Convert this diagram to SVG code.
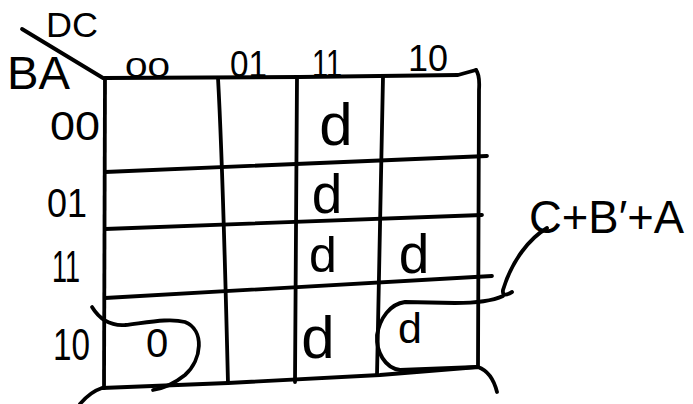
<svg xmlns="http://www.w3.org/2000/svg" width="693" height="404" viewBox="0 0 693 404">
<style>
.ln{fill:none;stroke:#000;stroke-width:3.8;stroke-linecap:round;stroke-linejoin:round}
.t{font-family:"Liberation Sans","DejaVu Sans",sans-serif;fill:#000}
.m{text-anchor:middle}
</style>
<rect width="693" height="404" fill="#fff"/>
<g id="grid">
<path class="ln" d="M105,78 L300,77 L458,75 L476,70"/>
<path class="ln" d="M105,78 L104,388"/>
<path class="ln" d="M218,78 C222,150 226,300 228,383"/>
<path class="ln" d="M297,77 L295,382"/>
<path class="ln" d="M383,77 L377,375"/>
<path class="ln" d="M476,70 Q480,75 479,90 L478,367"/>
<path class="ln" d="M105,172 L487,156"/>
<path class="ln" d="M105,229 L482,215"/>
<path class="ln" d="M105,298 L492,276"/>
<path class="ln" d="M80,404 Q90,392 102,388 L228,383 L380,375 L478,367 Q492,372 497,392"/>
<path class="ln" d="M22,29 L103,78"/>
</g>
<g id="labels">
<text class="t" x="46" y="37" font-size="35" textLength="52" lengthAdjust="spacingAndGlyphs">DC</text>
<text class="t" x="7" y="89" font-size="47" textLength="63" lengthAdjust="spacingAndGlyphs">BA</text>
<text class="t" x="125" y="77" font-size="28" textLength="45" lengthAdjust="spacingAndGlyphs">00</text>
<text class="t" x="230" y="77" font-size="36" textLength="37" lengthAdjust="spacingAndGlyphs">01</text>
<text class="t" x="312" y="77" font-size="38" textLength="30" lengthAdjust="spacingAndGlyphs">11</text>
<text class="t" x="408" y="71" font-size="36" textLength="40" lengthAdjust="spacingAndGlyphs">10</text>
<text class="t" x="50" y="140" font-size="40" textLength="50" lengthAdjust="spacingAndGlyphs">00</text>
<text class="t" x="47" y="217" font-size="40" textLength="40" lengthAdjust="spacingAndGlyphs">01</text>
<text class="t" x="52" y="282" font-size="44" textLength="28" lengthAdjust="spacingAndGlyphs">11</text>
<text class="t" x="53" y="360" font-size="44" textLength="37" lengthAdjust="spacingAndGlyphs">10</text>
</g>
<g id="cells">
<text class="t m" x="336" y="145" font-size="60">d</text>
<text class="t m" x="327" y="213" font-size="55">d</text>
<text class="t m" x="323" y="272" font-size="50">d</text>
<text class="t m" x="414" y="273" font-size="55">d</text>
<text class="t m" x="318" y="358" font-size="60">d</text>
<text class="t m" x="410" y="343" font-size="43">d</text>
<text class="t m" x="157" y="357" font-size="40">0</text>
</g>
<g id="expr">
<text class="t" x="529" y="233" font-size="46" textLength="155" lengthAdjust="spacingAndGlyphs">C+B′+A</text>
</g>
<g id="connectors">
<path class="ln" d="M92,307 C100,320 110,326 125,325 C150,322 170,318 185,322 C205,330 202,360 185,375 C175,383 165,388 153,390"/>
<path class="ln" d="M547,228 C530,238 512,260 503,290 Q502,298 512,292"/>
<path class="ln" d="M503,296 C490,302 470,303 455,303 L405,302 C390,304 380,318 377,335 C376,352 385,368 400,370 L477,367"/>
</g>
</svg>
